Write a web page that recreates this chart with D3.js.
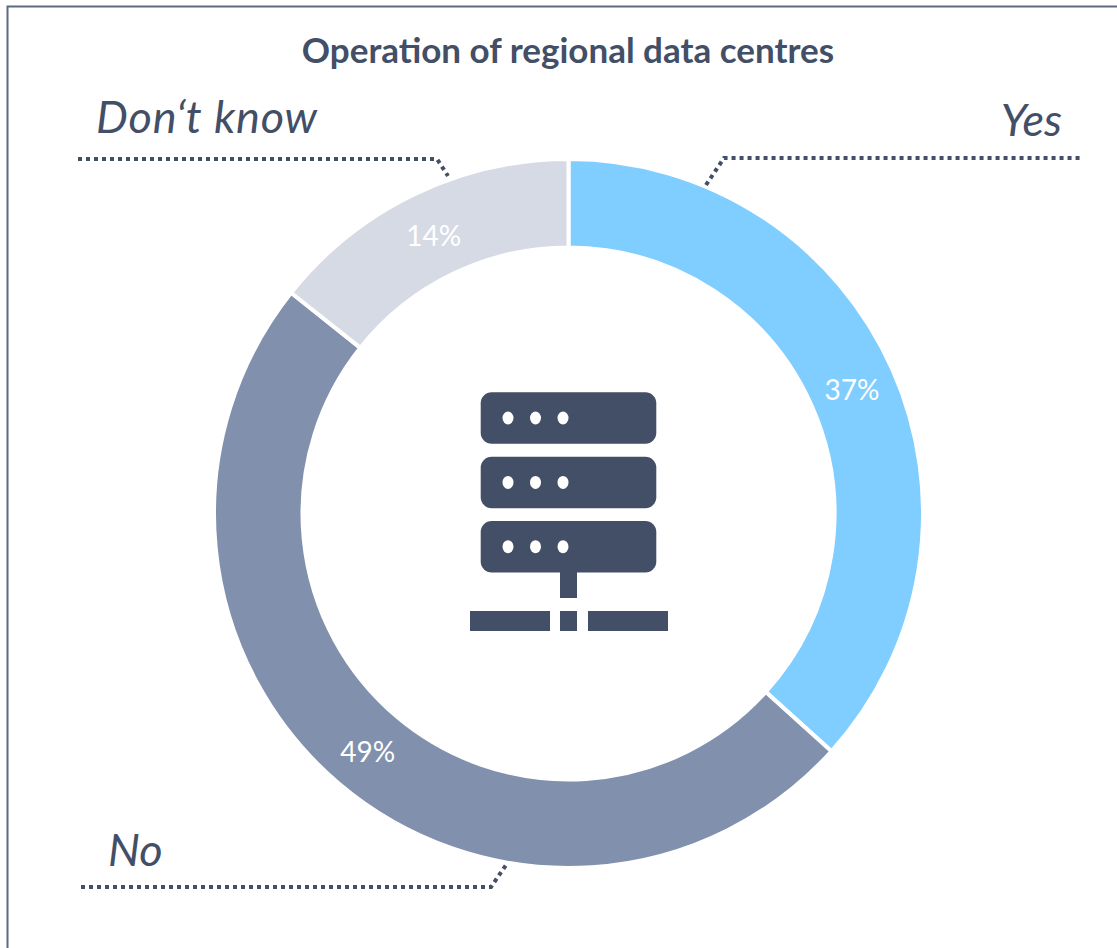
<!DOCTYPE html>
<html>
<head>
<meta charset="utf-8">
<script src="https://d3js.org/d3.v7.min.js"></script>
<style>
  html, body { margin: 0; padding: 0; background: #fff; overflow: hidden; }
  text { font-family: Lato, "Open Sans", sans-serif; }
</style>
</head>
<body>
<div id="canvas"></div>
<script>
(function(){

    var categories = ["Yes", "No", "Don\u2018t know"];
    var shares = [36.7, 49, 14.3];
    var sliceColors = ["#80cdff", "#8190ad", "#d6dae5"];
    var chartTitle = "Operation of regional data centres";

    var width = 1117, height = 948;
    var dark = "#424f66";
    var cx = 568.5, cy = 513.5, outer = 354.5, inner = 266;

    var svg = d3.select("#canvas").append("svg").attr("width", width).attr("height", height);

    // frame runs off the right and bottom of the crop
    svg.append("path")
        .attr("d", "M7.5,948V6.5H1117")
        .attr("fill", "none")
        .attr("stroke", "#5d6b80")
        .attr("stroke-width", 2);

    svg.append("text")
        .attr("x", 568).attr("y", 63)
        .attr("text-anchor", "middle")
        .attr("font-size", 35).attr("font-weight", 700)
        .attr("fill", dark)
        .text(chartTitle);

    var pie = d3.pie().sort(null).value(function(d){ return d; });
    var arc = d3.arc().innerRadius(inner).outerRadius(outer);
    var slices = pie(shares);

    var ring = svg.append("g").attr("transform", "translate(" + cx + "," + cy + ")");

    ring.selectAll("path").data(slices).enter().append("path")
        .attr("d", arc)
        .attr("fill", function(d, i){ return sliceColors[i]; })
        .attr("stroke", "#fff")
        .attr("stroke-width", 4);

    ring.selectAll("text").data(slices).enter().append("text")
        .attr("transform", function(d){ return "translate(" + arc.centroid(d) + ")"; })
        .attr("text-anchor", "middle")
        .attr("dy", "0.43em")
        .attr("font-size", 28)
        .attr("fill", "#fff")
        .text(function(d){ return Math.round(d.value) + "%"; });

    // category labels and dotted leaders
    var labelPos = [
        {x: 1062, y: 136, anchor: "end"},
        {x: 108, y: 866, anchor: "start"},
        {x: 96, y: 133, anchor: "start"}
    ];
    var leaders = [
        [[706, 185], [724, 158], [1083, 158]],
        [[81, 887], [491, 887], [506, 865]],
        [[78, 159], [437, 159], [448, 176]]
    ];

    svg.selectAll("text.cat").data(categories).enter().append("text")
        .attr("class", "cat")
        .attr("x", function(d, i){ return labelPos[i].x; })
        .attr("y", function(d, i){ return labelPos[i].y; })
        .attr("text-anchor", function(d, i){ return labelPos[i].anchor; })
        .attr("font-size", 45)
        .attr("letter-spacing", function(d){ return d.length > 3 ? 0.8 : 0; })
        .attr("font-style", "italic")
        .attr("fill", dark)
        .text(function(d){ return d; });

    svg.selectAll("path.leader").data(leaders).enter().append("path")
        .attr("class", "leader")
        .attr("d", d3.line())
        .attr("fill", "none")
        .attr("stroke", dark)
        .attr("stroke-width", 4)
        .attr("stroke-dasharray", "4 4");

    // server icon
    var icon = svg.append("g").attr("fill", dark);
    [392.3, 456.7, 521].forEach(function(y){
        icon.append("rect").attr("x", 480.7).attr("y", y).attr("width", 175.6).attr("height", 51.5).attr("rx", 11);
        [508, 535.5, 563].forEach(function(x){
            svg.append("ellipse").attr("class", "dot").attr("cx", x).attr("cy", y + 25.7).attr("rx", 5.5).attr("ry", 6.5).attr("fill", "#fff");
        });
    });
    icon.append("rect").attr("x", 560).attr("y", 570).attr("width", 17).attr("height", 28);
    icon.append("rect").attr("x", 470).attr("y", 611).attr("width", 80).attr("height", 20);
    icon.append("rect").attr("x", 560).attr("y", 611).attr("width", 17).attr("height", 20);
    icon.append("rect").attr("x", 588).attr("y", 611).attr("width", 80).attr("height", 20);

})();
</script>
</body>
</html>
